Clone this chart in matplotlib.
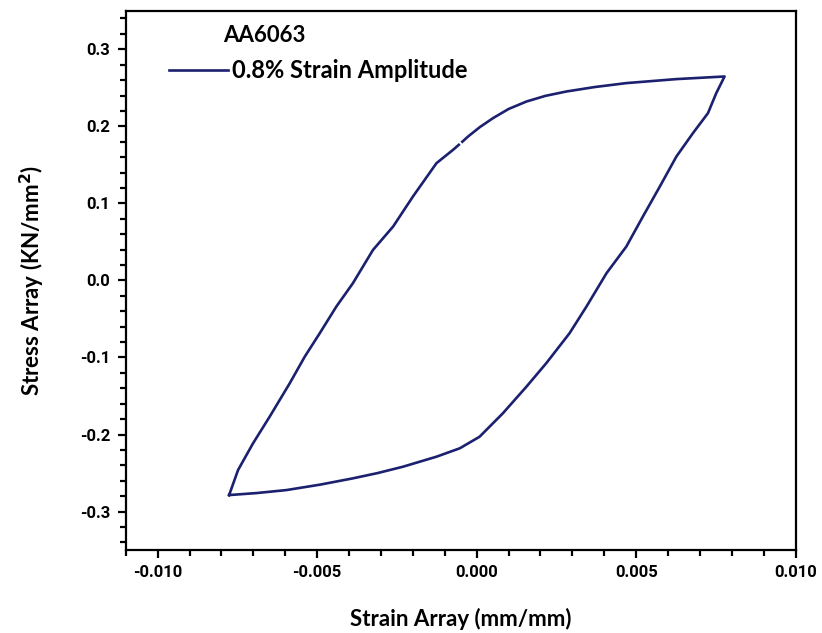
import numpy as np
import matplotlib.pyplot as plt
from matplotlib.ticker import MultipleLocator, FormatStrFormatter

# --- Data (strain in mm/mm, stress in KN/mm^2) ---
# loading branch: bottom-left tip -> top-right tip (nan = small gap in the trace)
load_strain = [-0.00776, -0.00748, -0.00701, -0.00649, -0.00586, -0.00539, -0.00492,
               -0.00440, -0.00388, -0.00325, -0.00262, -0.00200, -0.00126, -0.00074,
               -0.00056, np.nan, -0.00045, -0.00027, 0.00010, 0.00051, 0.00100,
               0.00156, 0.00215, 0.00281, 0.00370, 0.00469, 0.00626, 0.00777]
load_stress = [-0.2786, -0.2461, -0.2114, -0.1769, -0.1335, -0.0990, -0.0686,
               -0.0340, -0.0036, 0.0396, 0.0699, 0.1088, 0.1522, 0.1695,
               0.1760, np.nan, 0.1800, 0.1868, 0.1990, 0.2106, 0.2225,
               0.2322, 0.2395, 0.2452, 0.2510, 0.2561, 0.2613, 0.2647]

# unloading branch: top-right tip -> bottom-left tip
unload_strain = [0.00777, 0.00751, 0.00725, 0.00678, 0.00626, 0.00574, 0.00521,
                 0.00469, 0.00407, 0.00344, 0.00291, 0.00218, 0.00156, 0.00082,
                 0.00009, -0.00053, -0.00126, -0.00231, -0.00310, -0.00388, -0.00490,
                 -0.00596, -0.00690, -0.00776]
unload_stress = [0.2647, 0.2431, 0.2171, 0.1912, 0.1608, 0.1218, 0.0829,
                 0.0439, 0.0094, -0.0340, -0.0686, -0.1075, -0.1379, -0.1725,
                 -0.2029, -0.2179, -0.2288, -0.2418, -0.2500, -0.2569, -0.2650,
                 -0.2721, -0.2760, -0.2786]

MATERIAL = 'AA6063'
SERIES = '0.8% Strain Amplitude'
LINE_COLOR = '#1b206f'
LABEL_FONT = 'Lato'
TICK_FONT = 'Roboto'

plt.rcParams['font.family'] = TICK_FONT
plt.rcParams['font.weight'] = 'bold'
plt.rcParams['mathtext.default'] = 'bf'

fig = plt.figure(figsize=(8.22, 6.33), dpi=100)
ax = fig.add_axes([0.153, 0.131, 0.815, 0.852])

strain = load_strain + unload_strain[1:]
stress = load_stress + unload_stress[1:]
ax.plot(strain, stress, color=LINE_COLOR, lw=1.9, label=SERIES)

ax.set_xlim(-0.011, 0.010)
ax.set_ylim(-0.35, 0.35)

ax.xaxis.set_major_locator(MultipleLocator(0.005))
ax.xaxis.set_minor_locator(MultipleLocator(0.001))
ax.yaxis.set_major_locator(MultipleLocator(0.1))
ax.yaxis.set_minor_locator(MultipleLocator(0.02))
ax.xaxis.set_major_formatter(FormatStrFormatter('%.3f'))
ax.yaxis.set_major_formatter(FormatStrFormatter('%.1f'))

ax.tick_params(which='both', direction='out', width=1.6, top=False, right=False)
ax.tick_params(which='major', length=6, pad=5, labelsize=12)
ax.tick_params(which='minor', length=4)
ax.set_xticks(ax.get_xticks())
ax.set_yticks(ax.get_yticks())
ax.set_xlim(-0.011, 0.010)
ax.set_ylim(-0.35, 0.35)
plt.setp(ax.get_xticklabels() + ax.get_yticklabels(),
         fontweight='bold', family=TICK_FONT)

for sp in ax.spines.values():
    sp.set_linewidth(1.6)

ax.set_xlabel('Strain Array (mm/mm)', fontsize=16, fontweight='bold',
              family=LABEL_FONT, labelpad=20)
ax.set_ylabel('Stress Array (KN/mm$^{2}$)', fontsize=16, fontweight='bold',
              family=LABEL_FONT, labelpad=24)

ax.text(0.145, 0.955, MATERIAL, transform=ax.transAxes, fontsize=16,
        fontweight='bold', family=LABEL_FONT, va='center', ha='left')
leg = ax.legend(loc='upper left', bbox_to_anchor=(0.05, 0.928), frameon=False,
                prop={'family': LABEL_FONT, 'weight': 'bold', 'size': 17},
                handlelength=2.5, handletextpad=0.2, borderaxespad=0)

fig.savefig('out.png', dpi=100)
